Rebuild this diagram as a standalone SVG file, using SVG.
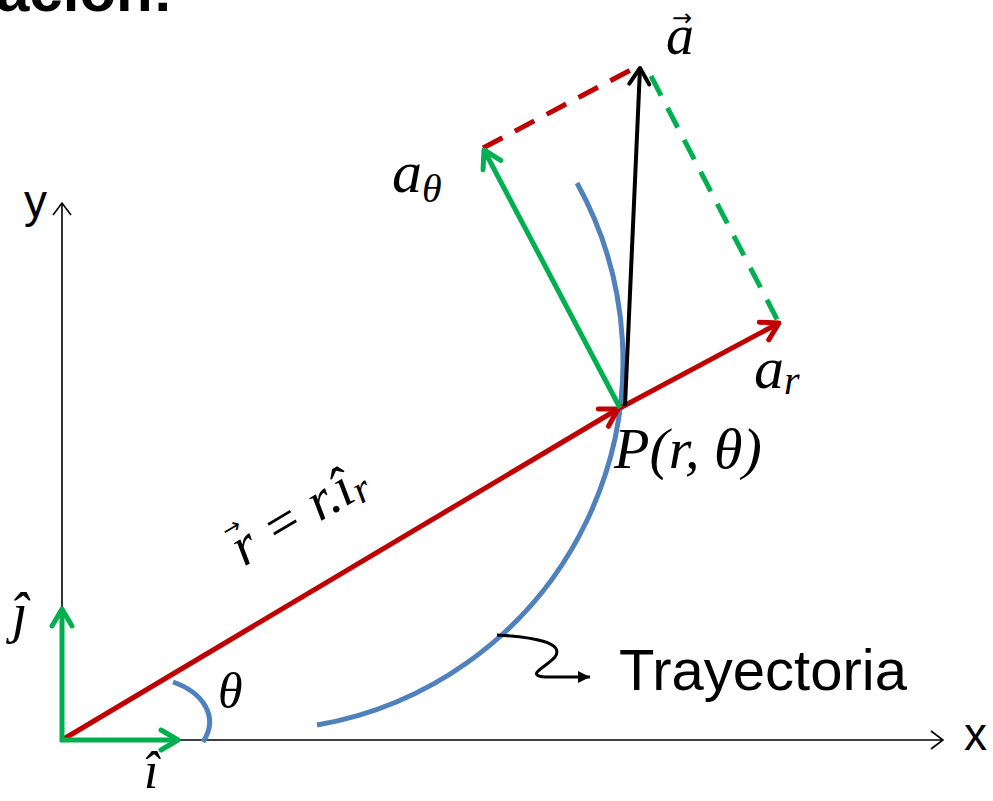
<svg xmlns="http://www.w3.org/2000/svg" width="993" height="801" viewBox="0 0 993 801">
<style>
.math{font-family:"Liberation Serif","DejaVu Serif",serif;font-style:italic;fill:#000}
.vec{font-family:"DejaVu Sans","Liberation Sans",sans-serif;fill:#000}
.sans{font-family:"Liberation Sans","Open Sans",sans-serif;fill:#000}
.axis{stroke:#000;stroke-width:1.6;fill:none}
.red{stroke:#c00000;stroke-width:5;fill:none}
.green{stroke:#00b050;stroke-width:5;fill:none}
.blk{stroke:#000;stroke-width:4;fill:none}
.blue{stroke:#4f81bd;stroke-width:5;fill:none}
.dash{stroke-dasharray:22 14}
</style>
<defs>
<marker id="mAx" markerUnits="userSpaceOnUse" markerWidth="30" markerHeight="30" viewBox="-20 -15 30 30" refX="0" refY="0" orient="auto" overflow="visible"><path d="M-12,-9 L0,0 L-12,9" fill="none" stroke="#000" stroke-width="1.6"/></marker>
<marker id="mRed" markerUnits="userSpaceOnUse" markerWidth="30" markerHeight="30" viewBox="-20 -15 30 30" refX="0" refY="0" orient="auto" overflow="visible"><path d="M-17,-10 L0,0 L-17,10" fill="none" stroke="#c00000" stroke-width="5" stroke-linecap="round" stroke-linejoin="round"/></marker>
<marker id="mGreen" markerUnits="userSpaceOnUse" markerWidth="30" markerHeight="30" viewBox="-20 -15 30 30" refX="0" refY="0" orient="auto" overflow="visible"><path d="M-17,-10 L0,0 L-17,10" fill="none" stroke="#00b050" stroke-width="5" stroke-linecap="round" stroke-linejoin="round"/></marker>
<marker id="mBlk" markerUnits="userSpaceOnUse" markerWidth="30" markerHeight="30" viewBox="-20 -15 30 30" refX="0" refY="0" orient="auto" overflow="visible"><path d="M-16,-10 L0,0 L-16,10" fill="none" stroke="#000" stroke-width="4" stroke-linecap="round" stroke-linejoin="round"/></marker>
<marker id="mSm" markerUnits="userSpaceOnUse" markerWidth="20" markerHeight="20" viewBox="-15 -10 20 20" refX="0" refY="0" orient="auto" overflow="visible"><path d="M-12,-6 L0,0 L-12,6 Z" fill="#000"/></marker>
</defs>

<text class="sans" x="-4" y="11" font-size="60" font-weight="bold">ación:</text>

<g id="axes">
<line class="axis" x1="62" y1="741" x2="62" y2="203" marker-end="url(#mAx)"/>
<line class="axis" x1="62" y1="740" x2="943" y2="740" marker-end="url(#mAx)"/>
<text class="sans" x="24" y="217" font-size="46">y</text>
<text class="sans" x="964" y="750" font-size="46">x</text>
</g>

<g id="trajectory">
<path class="blue" d="M317,725 A369,369 0 0 0 577,183"/>
</g>

<g id="connectors">
<line class="red dash" x1="483" y1="148" x2="640" y2="65"/>
<line class="green dash" x1="651" y1="76" x2="780" y2="325"/>
<line class="red" x1="62" y1="740" x2="618" y2="409" marker-end="url(#mRed)"/>
<line class="red" x1="620" y1="408" x2="779" y2="323" marker-end="url(#mRed)"/>
<line class="green" x1="620" y1="408" x2="484" y2="150" marker-end="url(#mGreen)"/>
<line class="blk" x1="625" y1="406" x2="640" y2="68" marker-end="url(#mBlk)"/>
<line class="green" x1="62" y1="742" x2="62" y2="609" marker-end="url(#mGreen)"/>
<line class="green" x1="60" y1="740" x2="178" y2="740" marker-end="url(#mGreen)"/>
<path class="blue" d="M173,682 C202,692 220,716 203,742"/>
<path d="M497,635 C535,637 565,643 555,657 C545,668 525,675 545,677 L590,677" fill="none" stroke="#000" stroke-width="3" marker-end="url(#mSm)"/>
</g>

<g id="labels">
<text class="math" x="666" y="54" font-size="56">a</text>
<text class="vec" x="672" y="26" font-size="24">→</text>
<text class="math" x="392" y="192" font-size="60">a<tspan font-size="40" dy="10">θ</tspan></text>
<text class="math" x="754" y="388" font-size="60">a<tspan font-size="40" dy="6">r</tspan></text>
<text class="math" x="614" y="468" font-size="58">P(r, θ)</text>
<g transform="translate(244,567) rotate(-30.75)">
<text class="math" x="0" y="0" font-size="56">r</text>
<text class="vec" x="0" y="-33" font-size="22">→</text>
<text class="math" x="36" y="0" font-size="56">= r.î<tspan font-size="40" dy="6">r</tspan></text>
</g>
<text class="math" x="12" y="632" font-size="56">ĵ</text>
<text class="math" x="144" y="788" font-size="52">î</text>
<text class="math" x="218" y="708" font-size="50">θ</text>
<text class="sans" x="619" y="690" font-size="58">Trayectoria</text>
</g>
</svg>
